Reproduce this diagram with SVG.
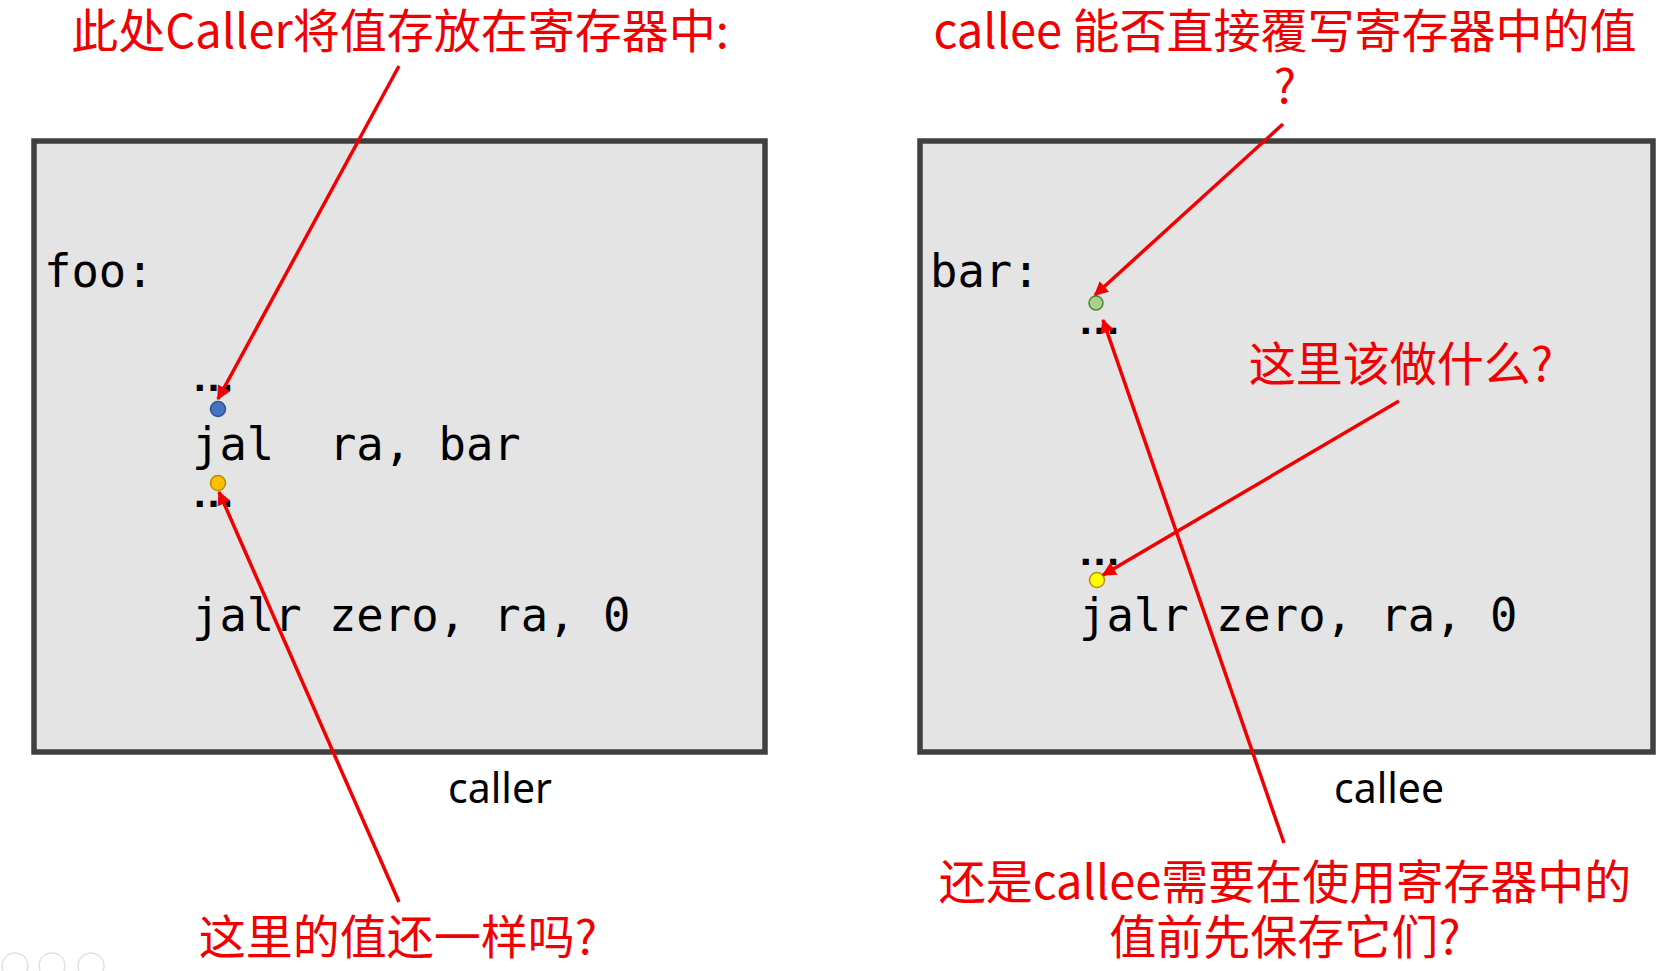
<svg xmlns="http://www.w3.org/2000/svg" width="1675" height="971" viewBox="0 0 1675 971">
<style>
.box{fill:#e4e4e4;stroke:#404040;stroke-width:5.5}
.code{font-family:"DejaVu Sans Mono","Liberation Mono",monospace;font-size:45.5px;fill:#000}
.dots{font-family:"Liberation Sans",Arial,sans-serif;font-size:43px;font-weight:bold;fill:#000}
.note{font-family:"Noto Sans CJK SC","Noto Sans",sans-serif;font-size:47px;fill:#f00000;text-anchor:middle}
.lbl{font-family:"Noto Sans","Liberation Sans",sans-serif;font-size:41px;fill:#000;text-anchor:middle}
.arr{stroke:#f00000;stroke-width:3.5;fill:none;marker-end:url(#ah)}
.ui{fill:none;stroke:#e2e2e2;stroke-width:1.5}
</style>
<defs>
<marker id="ah" viewBox="0 0 10 10" refX="9" refY="5" markerWidth="5" markerHeight="4" orient="auto" markerUnits="strokeWidth">
<path d="M0,0 L10,5 L0,10 z" fill="#f00000"/>
</marker>
</defs>
<rect width="1675" height="971" fill="#fff"/>

<g id="caller-box">
<rect class="box" x="34" y="141" width="731" height="611"/>
<text class="code" x="44" y="287">foo:</text>
<text class="dots" x="192" y="391">…</text>
<text class="code" x="192" y="460" xml:space="preserve">jal  ra, bar</text>
<text class="dots" x="192" y="507">…</text>
<text class="code" x="192" y="631" xml:space="preserve">jalr zero, ra, 0</text>
</g>
<g id="caller-points">
<circle cx="218" cy="409" r="7.5" fill="#4472c4" stroke="#2f528f" stroke-width="1.5"/>
<circle cx="218" cy="483" r="7.5" fill="#ffc000" stroke="#bc8c00" stroke-width="1.5"/>
</g>
<g id="caller-label"><text class="lbl" x="500" y="803">caller</text></g>

<g id="callee-box">
<rect class="box" x="920" y="141" width="733" height="611"/>
<text class="code" x="930" y="287">bar:</text>
<text class="dots" x="1078" y="334">…</text>
<text class="dots" x="1078" y="565">…</text>
<text class="code" x="1079" y="631" xml:space="preserve">jalr zero, ra, 0</text>
</g>
<g id="callee-points">
<circle cx="1096" cy="303" r="7" fill="#a9d18e" stroke="#548235" stroke-width="1.5"/>
<circle cx="1097" cy="580" r="7.5" fill="#ffff00" stroke="#bf9000" stroke-width="1.5"/>
</g>
<g id="callee-label"><text class="lbl" x="1389" y="803">callee</text></g>

<g id="note-caller-store"><text class="note" x="400" y="48">此处Caller将值存放在寄存器中:</text></g>
<g id="note-same-value"><text class="note" x="398" y="954">这里的值还一样吗?</text></g>
<g id="note-overwrite"><text class="note" x="1285" y="48">callee 能否直接覆写寄存器中的值</text><text class="note" x="1285" y="103">?</text></g>
<g id="note-what-here"><text class="note" x="1401" y="381">这里该做什么?</text></g>
<g id="note-save-first"><text class="note" x="1285" y="899">还是callee需要在使用寄存器中的</text><text class="note" x="1285" y="954">值前先保存它们?</text></g>

<g id="connectors">
<line class="arr" x1="399" y1="66" x2="218" y2="399"/>
<line class="arr" x1="399" y1="902" x2="219" y2="492"/>
<line class="arr" x1="1283" y1="124" x2="1095" y2="295"/>
<line class="arr" x1="1399" y1="401" x2="1103" y2="575"/>
<line class="arr" x1="1284" y1="843" x2="1103" y2="320"/>
</g>

<g id="ui-controls">
<circle class="ui" cx="15" cy="966" r="13"/>
<circle class="ui" cx="52" cy="966" r="13"/>
<circle class="ui" cx="91" cy="966" r="13"/>
</g>
</svg>
